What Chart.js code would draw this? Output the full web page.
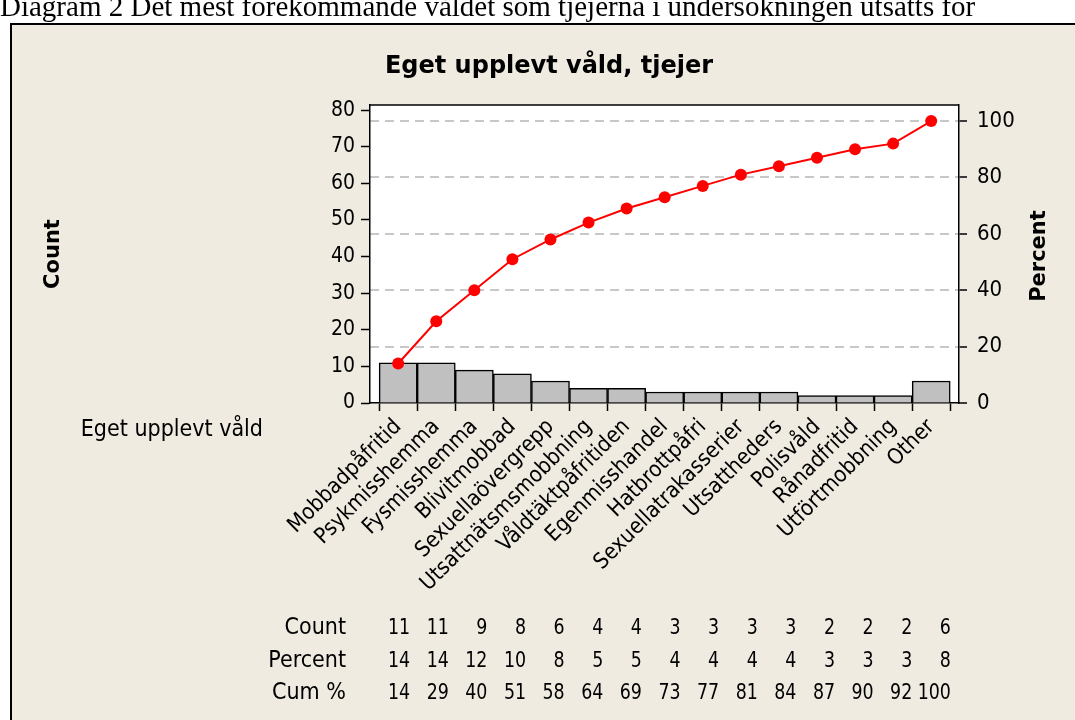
<!DOCTYPE html>
<html>
<head>
<meta charset="utf-8">
<script src="https://cdn.jsdelivr.net/npm/chart.js@4.4.0/dist/chart.umd.min.js"></script>
<style>
	html, body { margin: 0; padding: 0; background: #fff; }
	#area { width: 1075px; height: 720px; }
</style>
</head>
<body>
<div id="area"><canvas id="graficoVald" width="1075" height="720"></canvas></div>
<script>
var rubrik = 'Diagram 2 Det mest förekommande våldet som tjejerna i undersökningen utsatts för';
var titel = 'Eget upplevt våld, tjejer';
var kategoriNamn = 'Eget upplevt våld';

var kategorier = ['Mobbadpåfritid', 'Psykmisshemma', 'Fysmisshemma', 'Blivitmobbad', 'Sexuellaövergrepp',
	'Utsattnätsmsmobbning', 'Våldtäktpåfritiden', 'Egenmisshandel', 'Hatbrottpåfri', 'Sexuellatrakasserier',
	'Utsattheders', 'Polisvåld', 'Rånadfritid', 'Utförtmobbning', 'Other'];
var antal = [11, 11, 9, 8, 6, 4, 4, 3, 3, 3, 3, 2, 2, 2, 6];
var procent = [14, 14, 12, 10, 8, 5, 5, 4, 4, 4, 4, 3, 3, 3, 8];
var kumProcent = [14, 29, 40, 51, 58, 64, 69, 73, 77, 81, 84, 87, 90, 92, 100];
var tabellRader = ['Count', 'Percent', 'Cum %'];

var typsnitt = '"DejaVu Sans Condensed", "DejaVu Sans", sans-serif';
var fetTypsnitt = '"DejaVu Sans", sans-serif';

var ramar = {
	id: 'ramar',
	beforeDraw: function(chart) {
		var ctx = chart.ctx, a = chart.chartArea;
		ctx.save();
		ctx.fillStyle = '#fff';
		ctx.fillRect(0, 0, chart.width, chart.height);
		ctx.fillStyle = '#EFEBE1';
		ctx.fillRect(10, 24, chart.width - 10, chart.height - 24);
		ctx.strokeStyle = '#000';
		ctx.lineWidth = 2;
		ctx.beginPath();
		ctx.moveTo(10, 24); ctx.lineTo(chart.width, 24);
		ctx.moveTo(11, 24); ctx.lineTo(11, chart.height);
		ctx.stroke();
		ctx.fillStyle = '#fff';
		ctx.fillRect(a.left, a.top, a.right - a.left, a.bottom - a.top);
		ctx.restore();
	},
	afterDraw: function(chart) {
		var ctx = chart.ctx, a = chart.chartArea, x = chart.scales.x;
		ctx.save();
		// ram ovanför ritytan
		ctx.strokeStyle = '#000';
		ctx.lineWidth = 1.5;
		ctx.beginPath();
		ctx.moveTo(a.left, a.top); ctx.lineTo(a.right, a.top);
		ctx.stroke();

		ctx.fillStyle = '#000';
		ctx.font = '29px "Liberation Serif", serif';
		ctx.textAlign = 'left';
		ctx.textBaseline = 'alphabetic';
		ctx.fillText(rubrik, 0, 16);

		ctx.font = 'bold 24px ' + fetTypsnitt;
		ctx.textAlign = 'center';
		ctx.fillText(titel, 549, 73);

		ctx.font = 'bold 21px ' + fetTypsnitt;
		ctx.textBaseline = 'middle';
		ctx.save();
		ctx.translate(54, 254);
		ctx.rotate(-Math.PI / 2);
		ctx.fillText('Count', 0, 0);
		ctx.restore();
		ctx.save();
		ctx.translate(1040, 256);
		ctx.rotate(-Math.PI / 2);
		ctx.fillText('Percent', 0, 0);
		ctx.restore();

		ctx.font = '23px ' + typsnitt;
		ctx.textAlign = 'right';
		ctx.fillText(kategoriNamn, 263, 430);

		var rader = [antal, procent, kumProcent];
		var radY = [628, 661, 693];
		rader.forEach(function(rad, r) {
			ctx.textAlign = 'right';
			ctx.font = '23px ' + typsnitt;
			ctx.fillText(tabellRader[r], 346, radY[r]);
			ctx.font = '22px ' + typsnitt;
			rad.forEach(function(v, i) {
				// smalare siffror, som i originalet
				ctx.save();
				ctx.translate(x.getPixelForValue(i) + 12 + i * 0.55, radY[r]);
				ctx.scale(0.88, 1);
				ctx.fillText(String(v), 0, 0);
				ctx.restore();
			});
		});
		ctx.restore();
	}
};

var grafico = new Chart(document.getElementById('graficoVald').getContext('2d'), {
	data: {
		datasets: [{
			type: 'line',
			yAxisID: 'y2',
			order: 0,
			data: kumProcent.map(function(v, i) { return { x: i, y: v }; }),
			borderColor: '#FF0000',
			backgroundColor: '#FF0000',
			borderWidth: 2,
			pointRadius: 6,
			pointBorderWidth: 0,
			tension: 0
		}, {
			type: 'bar',
			yAxisID: 'y',
			order: 1,
			data: antal.map(function(v, i) { return { x: i, y: v }; }),
			backgroundColor: '#C0C0C0',
			borderColor: '#000',
			borderWidth: 1.5,
			barPercentage: 1,
			categoryPercentage: 1
		}]
	},
	options: {
		responsive: false,
		animation: false,
		layout: { padding: { top: 105, left: 310, right: 56, bottom: 0 } },
		plugins: { legend: { display: false }, tooltip: { enabled: false } },
		scales: {
			x: {
				type: 'linear',
				min: -0.74,
				max: 14.73,
				offset: false,
				afterBuildTicks: function(s) {
					s.ticks = kategorier.map(function(k, i) { return { value: i }; });
				},
				afterFit: function(s) { s.height = 317; },
				grid: { drawOnChartArea: false, tickLength: 8, tickColor: '#000', tickWidth: 1.5 },
				border: { color: '#000', width: 1.5 },
				ticks: {
					autoSkip: false,
					minRotation: 45,
					maxRotation: 45,
					padding: 3,
					color: '#000',
					font: { family: typsnitt, size: 22 },
					callback: function(v) { return kategorier[Math.round(v)]; }
				}
			},
			y: {
				position: 'left',
				min: 0,
				max: 81.4,
				afterFit: function(s) { s.width = 60; },
				grid: { drawOnChartArea: false, tickLength: 9, tickColor: '#000', tickWidth: 1.5 },
				border: { color: '#000', width: 1.5 },
				ticks: { stepSize: 10, includeBounds: false, padding: 6, color: '#000', font: { family: typsnitt, size: 21 } }
			},
			y2: {
				position: 'right',
				min: 0,
				max: 105.7,
				afterFit: function(s) { s.width = 60; },
				grid: {
					drawOnChartArea: true,
					color: function(c) { return c.tick && c.tick.value === 0 ? 'rgba(0,0,0,0)' : '#C8C8C8'; },
					lineWidth: 2,
					tickLength: 8,
					tickColor: '#000',
					tickWidth: 1.5
				},
				border: { color: '#000', width: 1.5, dash: [9, 6] },
				ticks: { stepSize: 20, includeBounds: false, padding: 10, color: '#000', font: { family: typsnitt, size: 22 } }
			}
		}
	},
	plugins: [ramar]
});
</script>
</body>
</html>
